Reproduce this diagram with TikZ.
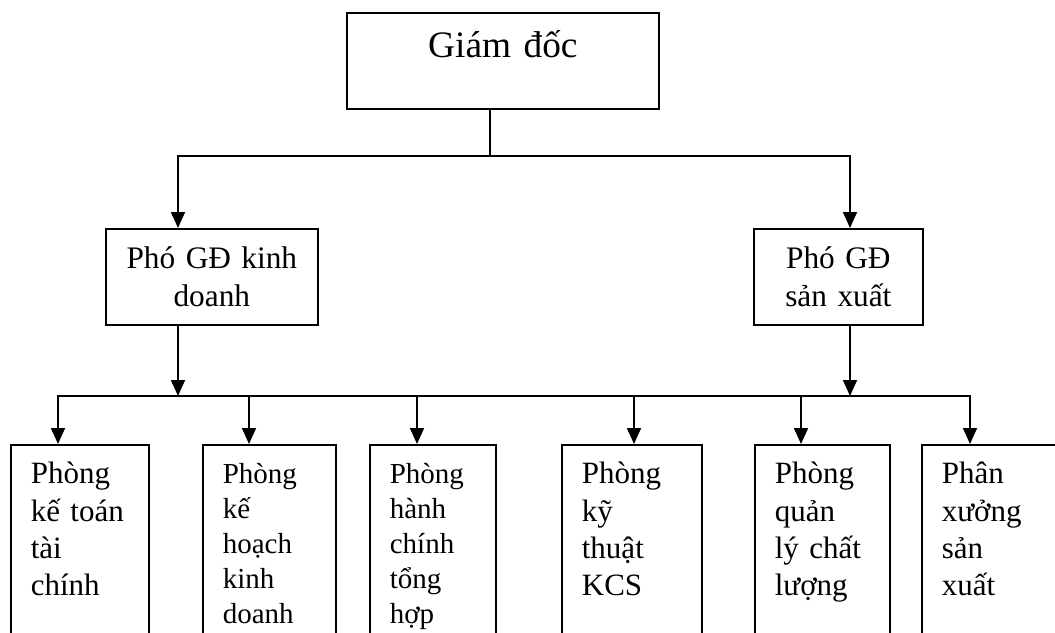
\documentclass[tikz,border=0pt]{standalone}
\usepackage{fontspec}
\setmainfont{Liberation Serif}
\usetikzlibrary{arrows.meta}

\newcommand{\gdfont}{\fontsize{28}{34}\selectfont}
\newcommand{\phofont}{\fontsize{23.5}{28}\selectfont}

\begin{document}
\begin{tikzpicture}[
    x=0.75pt, y=-0.75pt,
    box/.style={draw, line width=1.3pt, inner xsep=0pt, inner ysep=0pt, anchor=north west},
    wire/.style={line width=1.3pt, line cap=rect},
    link/.style={-{Triangle[length=12pt, width=10.5pt]}, line width=1.3pt} % 箭头样式
]
\useasboundingbox (0,0) rectangle (1055,632);
\clip (0,0) rectangle (1055,632);

% 上层
\node[box, font=\gdfont, text width=234pt, align=center, text height=33.75pt, text depth=38.25pt] (gd) at (346,12) {Giám đốc};
\node[box, font=\phofont, text width=159pt, align=center, text height=30pt, text depth=42pt] (pkd) at (105,228) {Phó GĐ kinh\\doanh};
\node[box, font=\phofont, text width=126.75pt, align=center, text height=30pt, text depth=42pt] (psx) at (753,228) {Phó GĐ\\sản xuất};

% 连线
\coordinate (tb) at (490,156);
\coordinate (tl) at (178,156);
\coordinate (tr) at (850,156);
\draw[wire] (tb |- gd.south) -- (tb);
\draw[wire] (tl) -- (tr);
\draw[link] (tl) -- (tl |- pkd.north);
\draw[link] (tr) -- (tr |- psx.north);

\coordinate (bl) at (178,396);
\coordinate (br) at (850,396);
\draw[link] (bl |- pkd.south) -- (bl);
\draw[link] (br |- psx.south) -- (br);

% 下层各部门
\foreach \i/\x/\w/\ax/\fs/\t in {
    1/10/138/58/23.25/{Phòng\\kế toán\\tài\\chính},
    2/202/133/249/21.75/{Phòng\\kế\\hoạch\\kinh\\doanh},
    3/369/126/417/21.75/{Phòng\\hành\\chính\\tổng\\hợp},
    4/561/140/634/23.25/{Phòng\\kỹ\\thuật\\KCS},
    5/754/135/801/23.25/{Phòng\\quản\\lý chất\\lượng},
    6/921/140/970/23.25/{Phân\\xưởng\\sản\\xuất}} {
    \pgfmathsetmacro\tw{(\w-40)*0.75}
    \pgfmathsetmacro\ls{\fs*1.2}
    \node[box, font=\fontsize{\fs}{\ls}\selectfont, text width=\tw pt, inner xsep=15pt, align=left, text height=29.25pt, text depth=190pt] (p\i) at (\x,444) {\t};
    \coordinate (b\i) at (\ax,396);
    \draw[link] (b\i) -- (b\i |- p\i.north);
}
\draw[wire] (b1) -- (b6);

\end{tikzpicture}
\end{document}
